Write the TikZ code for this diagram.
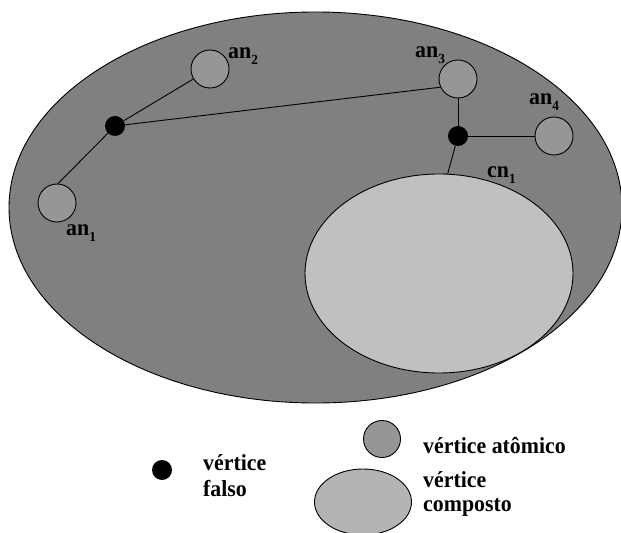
\documentclass[tikz,border=0pt]{standalone}
\usepackage{fontspec}
\setmainfont{Liberation Serif}
\newfontfamily\lblfont{Liberation Serif}[FakeStretch=0.95]
\usetikzlibrary{shapes.geometric}
\definecolor{outerfill}{RGB}{128,128,128}
\definecolor{atomfill}{RGB}{150,150,150}
\definecolor{compfill}{RGB}{192,192,192}
\definecolor{legcompfill}{RGB}{180,180,180}
% lowered, smaller index for vertex names
\newcommand\lblsub[1]{\raisebox{-6bp}{\fontsize{14bp}{14bp}\selectfont #1}}
\tikzset{
  edge/.style={draw=black, line width=0.9bp},
  atom/.style={circle, draw=black, line width=0.9bp, fill=atomfill, minimum size=38bp, inner sep=0pt},
  fake/.style={circle, fill=black, minimum size=20bp, inner sep=0pt},
  composite/.style={ellipse, draw=black, line width=0.9bp, inner sep=0pt},
  lbl/.style={anchor=base west, inner sep=0pt, font=\lblfont\fontsize{23bp}{26bp}\selectfont\bfseries},
}
\begin{document}
\begin{tikzpicture}[x=1bp, y=-1bp]
  \useasboundingbox (0,0) rectangle (621,533);

  % outer composite vertex
  \node[composite, fill=outerfill, minimum width=613bp, minimum height=391bp] (outer) at (315.5,207.5) {};

  % inner composite vertex
  \node[composite, fill=compfill, minimum width=268bp, minimum height=199bp] (cn1) at (439,273.5) {};

  % atomic vertices
  \node[atom] (an1) at (57,203) {};
  \node[atom] (an2) at (210,69) {};
  \node[atom] (an3) at (458,79) {};
  \node[atom] (an4) at (554,136) {};

  % false vertices
  \node[fake] (f1) at (115,126) {};
  \node[fake] (f2) at (458,136) {};

  % edges
  \draw[edge] (f1) -- (an1.87);
  \draw[edge] (f1) -- (an2);
  \draw[edge] (f1) -- (an3.205);
  \draw[edge] (an3.south) -- (f2);
  \draw[edge] (f2) -- (cn1.85);
  \draw[edge] (f2) -- (an4);

  % vertex labels
  \node[lbl] (l-an1) at (66,235.5) {an\lblsub{1}};
  \node[lbl] (l-an2) at (228,59) {an\lblsub{2}};
  \node[lbl] (l-an3) at (415,58) {an\lblsub{3}};
  \node[lbl] (l-an4) at (529,105) {an\lblsub{4}};
  \node[lbl] (l-cn1) at (487,177.5) {cn\lblsub{1}};

  % legend
  \node[fake] (lg-fake) at (162,470) {};
  \node[lbl] (lg-fake-t1) at (203,470) {vértice};
  \node[lbl] (lg-fake-t2) at (203,496) {falso};

  \node[atom, minimum size=37bp] (lg-atom) at (382,439) {};
  \node[lbl] (lg-atom-t) at (423,453) {vértice atômico};

  \node[composite, fill=legcompfill, minimum width=97bp, minimum height=66bp] (lg-comp) at (363,502) {};
  \node[lbl] (lg-comp-t1) at (423,487) {vértice};
  \node[lbl] (lg-comp-t2) at (423,511) {composto};
\end{tikzpicture}
\end{document}
